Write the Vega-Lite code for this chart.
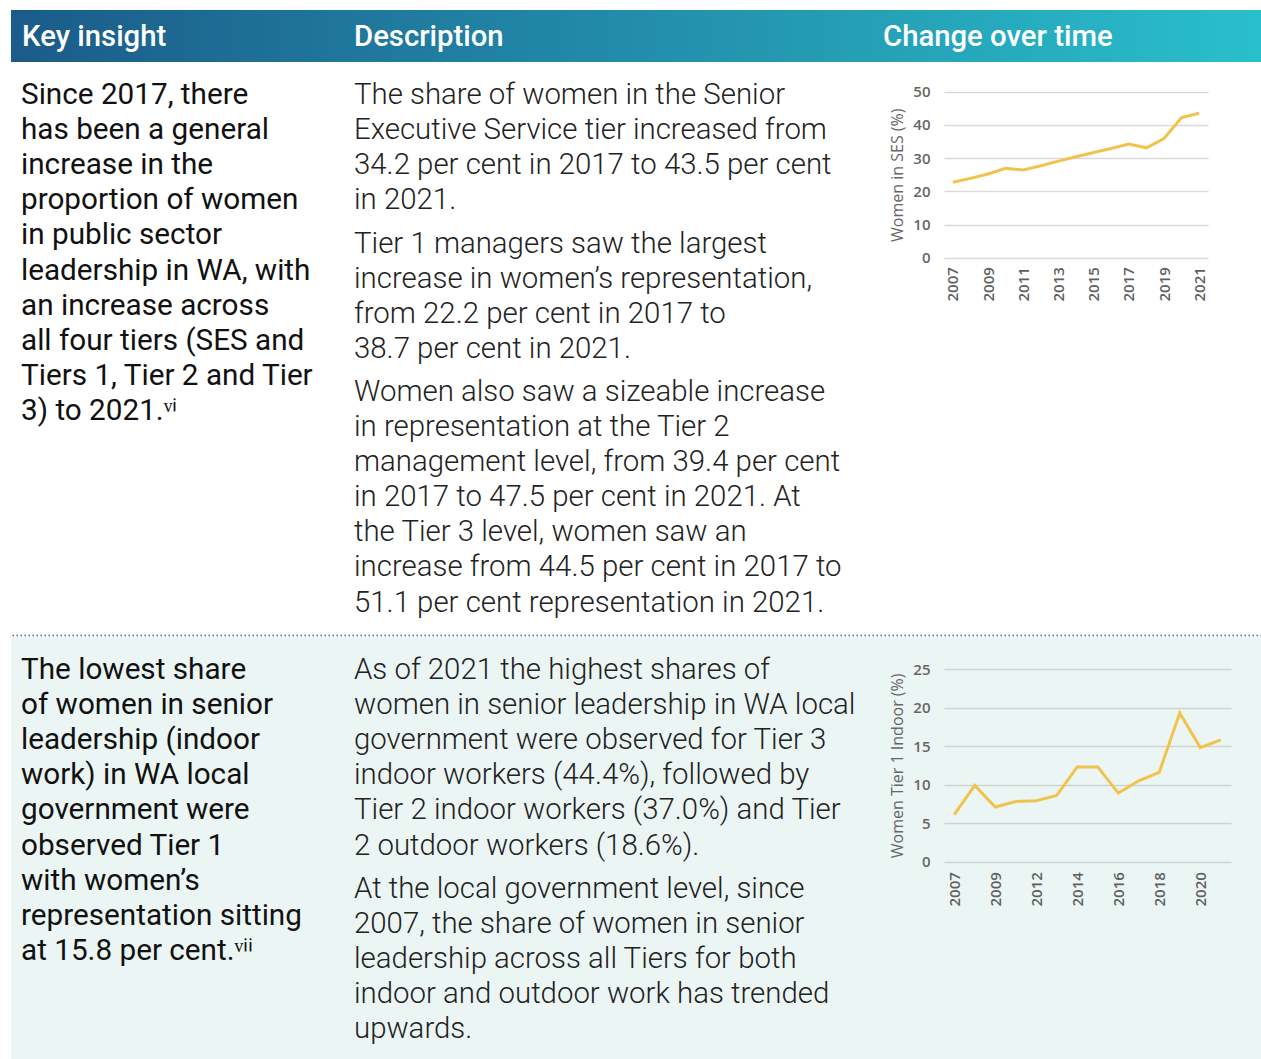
{
  "$schema": "https://vega.github.io/schema/vega-lite/v6.json",
  "padding": {"left": 10, "top": 10, "right": 0, "bottom": 0},
  "background": "white",
  "spacing": 0,
  "config": {
    "view": {"stroke": null},
    "axis": {"labelFont": "Open Sans", "titleFont": "Open Sans"}
  },
  "datasets": {
    "txt": [
      {"r": 1, "c": "insight", "p": 0, "line": 0, "t": "Since 2017, there"},
      {"r": 1, "c": "insight", "p": 0, "line": 1, "t": "has been a general"},
      {"r": 1, "c": "insight", "p": 0, "line": 2, "t": "increase in the"},
      {"r": 1, "c": "insight", "p": 0, "line": 3, "t": "proportion of women"},
      {"r": 1, "c": "insight", "p": 0, "line": 4, "t": "in public sector"},
      {"r": 1, "c": "insight", "p": 0, "line": 5, "t": "leadership in WA, with"},
      {"r": 1, "c": "insight", "p": 0, "line": 6, "t": "an increase across"},
      {"r": 1, "c": "insight", "p": 0, "line": 7, "t": "all four tiers (SES and"},
      {"r": 1, "c": "insight", "p": 0, "line": 8, "t": "Tiers 1, Tier 2 and Tier"},
      {"r": 1, "c": "insight", "p": 0, "line": 9, "t": "3) to 2021.ᵛⁱ"},
      {"r": 1, "c": "desc", "p": 0, "line": 0, "t": "The share of women in the Senior"},
      {"r": 1, "c": "desc", "p": 0, "line": 1, "t": "Executive Service tier increased from"},
      {"r": 1, "c": "desc", "p": 0, "line": 2, "t": "34.2 per cent in 2017 to 43.5 per cent"},
      {"r": 1, "c": "desc", "p": 0, "line": 3, "t": "in 2021."},
      {"r": 1, "c": "desc", "p": 1, "line": 4, "t": "Tier 1 managers saw the largest"},
      {"r": 1, "c": "desc", "p": 1, "line": 5, "t": "increase in women’s representation,"},
      {"r": 1, "c": "desc", "p": 1, "line": 6, "t": "from 22.2 per cent in 2017 to"},
      {"r": 1, "c": "desc", "p": 1, "line": 7, "t": "38.7 per cent in 2021."},
      {"r": 1, "c": "desc", "p": 2, "line": 8, "t": "Women also saw a sizeable increase"},
      {"r": 1, "c": "desc", "p": 2, "line": 9, "t": "in representation at the Tier 2"},
      {"r": 1, "c": "desc", "p": 2, "line": 10, "t": "management level, from 39.4 per cent"},
      {"r": 1, "c": "desc", "p": 2, "line": 11, "t": "in 2017 to 47.5 per cent in 2021. At"},
      {"r": 1, "c": "desc", "p": 2, "line": 12, "t": "the Tier 3 level, women saw an"},
      {"r": 1, "c": "desc", "p": 2, "line": 13, "t": "increase from 44.5 per cent in 2017 to"},
      {"r": 1, "c": "desc", "p": 2, "line": 14, "t": "51.1 per cent representation in 2021."},
      {"r": 2, "c": "insight", "p": 0, "line": 0, "t": "The lowest share"},
      {"r": 2, "c": "insight", "p": 0, "line": 1, "t": "of women in senior"},
      {"r": 2, "c": "insight", "p": 0, "line": 2, "t": "leadership (indoor"},
      {"r": 2, "c": "insight", "p": 0, "line": 3, "t": "work) in WA local"},
      {"r": 2, "c": "insight", "p": 0, "line": 4, "t": "government were"},
      {"r": 2, "c": "insight", "p": 0, "line": 5, "t": "observed Tier 1"},
      {"r": 2, "c": "insight", "p": 0, "line": 6, "t": "with women’s"},
      {"r": 2, "c": "insight", "p": 0, "line": 7, "t": "representation sitting"},
      {"r": 2, "c": "insight", "p": 0, "line": 8, "t": "at 15.8 per cent.ᵛⁱⁱ"},
      {"r": 2, "c": "desc", "p": 0, "line": 0, "t": "As of 2021 the highest shares of"},
      {"r": 2, "c": "desc", "p": 0, "line": 1, "t": "women in senior leadership in WA local"},
      {"r": 2, "c": "desc", "p": 0, "line": 2, "t": "government were observed for Tier 3"},
      {"r": 2, "c": "desc", "p": 0, "line": 3, "t": "indoor workers (44.4%), followed by"},
      {"r": 2, "c": "desc", "p": 0, "line": 4, "t": "Tier 2 indoor workers (37.0%) and Tier"},
      {"r": 2, "c": "desc", "p": 0, "line": 5, "t": "2 outdoor workers (18.6%)."},
      {"r": 2, "c": "desc", "p": 1, "line": 6, "t": "At the local government level, since"},
      {"r": 2, "c": "desc", "p": 1, "line": 7, "t": "2007, the share of women in senior"},
      {"r": 2, "c": "desc", "p": 1, "line": 8, "t": "leadership across all Tiers for both"},
      {"r": 2, "c": "desc", "p": 1, "line": 9, "t": "indoor and outdoor work has trended"},
      {"r": 2, "c": "desc", "p": 1, "line": 10, "t": "upwards."}
    ],
    "ses": [
      {"year": 2007, "v": 22.7}, {"year": 2008, "v": 23.9}, {"year": 2009, "v": 25.2},
      {"year": 2010, "v": 26.9}, {"year": 2011, "v": 26.4}, {"year": 2012, "v": 27.7},
      {"year": 2013, "v": 29.1}, {"year": 2014, "v": 30.4}, {"year": 2015, "v": 31.7},
      {"year": 2016, "v": 32.9}, {"year": 2017, "v": 34.2}, {"year": 2018, "v": 33.1},
      {"year": 2019, "v": 35.9}, {"year": 2020, "v": 42.2}, {"year": 2021, "v": 43.5}
    ],
    "tier": [
      {"year": 2007, "v": 6.1}, {"year": 2008, "v": 9.9}, {"year": 2009, "v": 7.1},
      {"year": 2011, "v": 7.8}, {"year": 2012, "v": 7.9}, {"year": 2013, "v": 8.6},
      {"year": 2014, "v": 12.3}, {"year": 2015, "v": 12.3}, {"year": 2016, "v": 8.9},
      {"year": 2017, "v": 10.5}, {"year": 2018, "v": 11.6}, {"year": 2019, "v": 19.3},
      {"year": 2020, "v": 14.8}, {"year": 2021, "v": 15.8}
    ],
    "head": [
      {"h": "Key insight"}, {"h": "Description"}, {"h": "Change over time"}
    ]
  },
  "vconcat": [
    {
      "hconcat": [
        {
          "width": 335, "height": 52,
          "view": {"fill": {"gradient": "linear", "x1": 0, "y1": 0, "x2": 1, "y2": 0, "stops": [{"offset": 0, "color": "#1b5b89"}, {"offset": 1, "color": "#1f769b"}]}},
          "data": {"name": "head"},
          "transform": [{"filter": "datum.h == 'Key insight'"}],
          "mark": {"type": "text", "align": "left", "baseline": "middle", "font": "Roboto", "fontWeight": 500, "fontSize": 29.3, "color": "white", "dx": 11, "dy": 1},
          "encoding": {
            "x": {"field": "h", "type": "nominal", "axis": null, "scale": {"align": 0}},
            "text": {"field": "h"}
          }
        },
        {
          "width": 529, "height": 52,
          "view": {"fill": {"gradient": "linear", "x1": 0, "y1": 0, "x2": 1, "y2": 0, "stops": [{"offset": 0, "color": "#1f769b"}, {"offset": 1, "color": "#25a0b7"}]}},
          "data": {"name": "head"},
          "transform": [{"filter": "datum.h == 'Description'"}],
          "mark": {"type": "text", "align": "left", "baseline": "middle", "font": "Roboto", "fontWeight": 500, "fontSize": 29.3, "color": "white", "dx": 8, "dy": 1},
          "encoding": {
            "x": {"field": "h", "type": "nominal", "axis": null, "scale": {"align": 0}},
            "text": {"field": "h"}
          }
        },
        {
          "width": 387, "height": 52,
          "view": {"fill": {"gradient": "linear", "x1": 0, "y1": 0, "x2": 1, "y2": 0, "stops": [{"offset": 0, "color": "#25a0b7"}, {"offset": 1, "color": "#29bfcc"}]}},
          "data": {"name": "head"},
          "transform": [{"filter": "datum.h == 'Change over time'"}],
          "mark": {"type": "text", "align": "left", "baseline": "middle", "font": "Roboto", "fontWeight": 500, "fontSize": 29.3, "color": "white", "dx": 8, "dy": 1},
          "encoding": {
            "x": {"field": "h", "type": "nominal", "axis": null, "scale": {"align": 0}},
            "text": {"field": "h"}
          }
        }
      ],
      "spacing": 0,
      "bounds": "flush"
    },
    {
      "hconcat": [
        {
          "width": 335, "height": 572,
          "data": {"name": "txt"},
          "transform": [{"filter": "datum.r == 1 && datum.c == 'insight'"}],
          "mark": {"type": "text", "align": "left", "baseline": "alphabetic", "font": "Roboto", "fontWeight": "normal", "fontSize": 29.7, "color": "#111111", "dx": 10},
          "encoding": {
            "x": {"field": "c", "type": "nominal", "axis": null, "scale": {"align": 0}},
            "y": {"field": "line", "type": "quantitative", "axis": null, "scale": {"domain": [-1.197, 15.1], "reverse": true, "zero": false, "nice": false}},
            "text": {"field": "t"}
          }
        },
        {
          "width": 598, "height": 572,
          "data": {"name": "txt"},
          "transform": [{"filter": "datum.r == 1 && datum.c == 'desc'"}],
          "encoding": {
            "x": {"field": "c", "type": "nominal", "axis": null, "scale": {"align": 0}},
            "y": {"field": "line", "type": "quantitative", "axis": null, "scale": {"domain": [-1.197, 15.1], "reverse": true, "zero": false, "nice": false}},
            "text": {"field": "t"}
          },
          "layer": [
            {"transform": [{"filter": "datum.p == 0"}], "mark": {"type": "text", "align": "left", "baseline": "alphabetic", "font": "Roboto", "fontWeight": 300, "fontSize": 29.4, "color": "#222222", "dx": 8, "dy": 0}},
            {"transform": [{"filter": "datum.p == 1"}], "mark": {"type": "text", "align": "left", "baseline": "alphabetic", "font": "Roboto", "fontWeight": 300, "fontSize": 29.4, "color": "#222222", "dx": 8, "dy": 8.6}},
            {"transform": [{"filter": "datum.p == 2"}], "mark": {"type": "text", "align": "left", "baseline": "alphabetic", "font": "Roboto", "fontWeight": 300, "fontSize": 29.4, "color": "#222222", "dx": 8, "dy": 16.2}}
          ]
        },
        {
          "width": 318, "height": 572,
          "data": {"name": "ses"},
          "mark": {"type": "line", "color": "#f0c44c", "strokeWidth": 3},
          "encoding": {
            "x": {
              "field": "year", "type": "ordinal",
              "scale": {"type": "point", "padding": 0.5, "range": [0, 264]},
              "axis": {"values": [2007, 2009, 2011, 2013, 2015, 2017, 2019, 2021], "labelAngle": -90, "labelAlign": "right", "labelBaseline": "middle", "ticks": false, "domain": false, "grid": false, "labelPadding": 9, "labelFontSize": 15, "labelFontWeight": 600, "labelColor": "#5f5f5f", "title": null, "offset": -376.3}
            },
            "y": {
              "field": "v", "type": "quantitative",
              "scale": {"domain": [0, 50], "range": [195.7, 29.7], "nice": false, "zero": true},
              "axis": {"values": [0, 10, 20, 30, 40, 50], "title": "Women in SES (%)", "titleFontSize": 16, "titleFontWeight": "normal", "titleColor": "#666666", "titlePadding": 7, "grid": true, "gridColor": "#d9d9d9", "gridWidth": 1.5, "domain": false, "ticks": false, "labelPadding": 14, "labelFontSize": 15, "labelFontWeight": 600, "labelColor": "#666666"}
            }
          }
        }
      ],
      "spacing": 0,
      "bounds": "flush"
    },
    {
      "width": 1251, "height": 3,
      "data": {"values": [{"s": "sep"}]},
      "mark": {"type": "rule", "color": "#2e6f9c", "strokeWidth": 1.5, "strokeDash": [1.5, 2.5]},
      "encoding": {"y": {"field": "s", "type": "nominal", "axis": null}}
    },
    {
      "hconcat": [
        {
          "width": 335, "height": 422,
          "view": {"fill": "#ebf5f4"},
          "data": {"name": "txt"},
          "transform": [{"filter": "datum.r == 2 && datum.c == 'insight'"}],
          "mark": {"type": "text", "align": "left", "baseline": "alphabetic", "font": "Roboto", "fontWeight": "normal", "fontSize": 29.7, "color": "#111111", "dx": 10},
          "encoding": {
            "x": {"field": "c", "type": "nominal", "axis": null, "scale": {"align": 0}},
            "y": {"field": "line", "type": "quantitative", "axis": null, "scale": {"domain": [-1.197, 10.826], "reverse": true, "zero": false, "nice": false}},
            "text": {"field": "t"}
          }
        },
        {
          "width": 598, "height": 422,
          "view": {"fill": "#ebf5f4"},
          "data": {"name": "txt"},
          "transform": [{"filter": "datum.r == 2 && datum.c == 'desc'"}],
          "encoding": {
            "x": {"field": "c", "type": "nominal", "axis": null, "scale": {"align": 0}},
            "y": {"field": "line", "type": "quantitative", "axis": null, "scale": {"domain": [-1.197, 10.826], "reverse": true, "zero": false, "nice": false}},
            "text": {"field": "t"}
          },
          "layer": [
            {"transform": [{"filter": "datum.p == 0"}], "mark": {"type": "text", "align": "left", "baseline": "alphabetic", "font": "Roboto", "fontWeight": 300, "fontSize": 29.4, "color": "#222222", "dx": 8, "dy": 0}},
            {"transform": [{"filter": "datum.p == 1"}], "mark": {"type": "text", "align": "left", "baseline": "alphabetic", "font": "Roboto", "fontWeight": 300, "fontSize": 29.4, "color": "#222222", "dx": 8, "dy": 8.4}}
          ]
        },
        {
          "width": 318, "height": 422,
          "view": {"fill": "#ebf5f4"},
          "data": {"name": "tier"},
          "mark": {"type": "line", "color": "#f0c44c", "strokeWidth": 3},
          "encoding": {
            "x": {
              "field": "year", "type": "ordinal",
              "scale": {"type": "point", "padding": 0.5, "range": [0, 287]},
              "axis": {"values": [2007, 2009, 2012, 2014, 2016, 2018, 2020], "labelAngle": -90, "labelAlign": "right", "labelBaseline": "middle", "ticks": false, "domain": false, "grid": false, "labelPadding": 10, "labelFontSize": 15, "labelFontWeight": 600, "labelColor": "#5f5f5f", "title": null, "offset": -197.3}
            },
            "y": {
              "field": "v", "type": "quantitative",
              "scale": {"domain": [0, 25], "range": [224.7, 32], "nice": false, "zero": true},
              "axis": {"values": [0, 5, 10, 15, 20, 25], "title": "Women Tier 1 Indoor (%)", "titleFontSize": 16, "titleFontWeight": "normal", "titleColor": "#666666", "titlePadding": 7, "grid": true, "gridColor": "#cfd3d3", "gridWidth": 1.5, "domain": false, "ticks": false, "labelPadding": 14, "labelFontSize": 15, "labelFontWeight": 600, "labelColor": "#666666"}
            }
          }
        }
      ],
      "spacing": 0,
      "bounds": "flush"
    }
  ]
}
